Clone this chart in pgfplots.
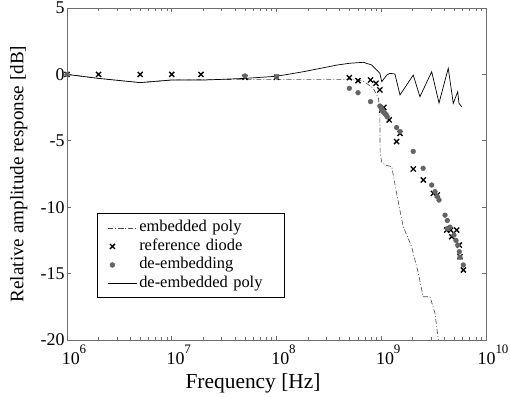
\documentclass[border=0pt]{standalone}
\usepackage{fontspec}
\setmainfont{Liberation Serif}
\usepackage{pgfplots}
\pgfplotsset{compat=1.18}
\definecolor{axgray}{RGB}{110,110,110}
\definecolor{dotgray}{RGB}{100,100,100}
\definecolor{dashgray}{RGB}{70,70,70}
\pgfplotsset{markleg/.style={legend image code/.code={\draw[##1] plot coordinates {(4bp,0bp)};}}}

\begin{document}
\begin{tikzpicture}
\begin{axis}[
  name=ax,
  scale only axis, width=419bp, height=332bp,
  xmode=log, xmin=1e6, xmax=1e10, ymin=-20, ymax=5,
  ytick={-20,-15,...,5},
  xtick={1e6,1e7,1e8,1e9,1e10},
  axis line style={axgray, line width=0.8bp},
  every tick/.style={axgray, line width=0.6bp},
  major tick length=4bp, minor tick length=3bp,
  /pgf/number format/assume math mode=true,
  tick label style={font=\fontsize{18}{18}\selectfont, text=black},
  yticklabel style={xshift=1bp},
  xticklabel={\pgfmathtruncatemacro\myexp{\tick/ln(10)+0.5}10\raisebox{11.5bp}{\fontsize{13}{13}\selectfont\myexp}},
  xticklabel style={xshift=7bp, yshift=-1bp},
  xlabel={Frequency [Hz]},
  ylabel={Relative amplitude response [dB]},
  xlabel style={font=\fontsize{21.5}{22}\selectfont, at={(axis description cs:0.444,-0.13)}, anchor=center},
  ylabel style={font=\fontsize{19.2}{20}\selectfont, at={(axis description cs:-0.115,0.5)}, anchor=center, rotate=0},
  legend image code/.code={\draw[mark repeat=2,mark phase=2,#1] plot coordinates {(0bp,0bp) (14.5bp,0bp) (29bp,0bp)};},
  legend cell align=left,
  legend style={at={(axis description cs:0.071,0.1265)}, anchor=south west,
    draw=black, line width=0.6bp, fill=white,
    font=\fontsize{16.5}{17}\selectfont,
    inner xsep=11bp, inner ysep=5bp, row sep=0pt,
    nodes={inner sep=1.5bp, text depth=4bp, text height=11.5bp, text width=133bp, anchor=west},
    /tikz/every even column/.append style={column sep=2.5bp}},
]
% embedded poly
\addplot[dashgray, line width=0.6bp, dash pattern=on 5bp off 2bp on 1bp off 2bp] coordinates {
(1e6,0) (2e6,-0.3) (5e6,-0.62) (1e7,-0.42) (2e7,-0.4) (5e7,-0.37) (1e8,-0.37) (5e8,-0.37)
(6.75e8,-0.5) (8.4e8,-1.05) (9.4e8,-1.8) (9.7e8,-2.8) (9.75e8,-5.9) (1.01e9,-6.6)
(1.09e9,-6.82) (1.26e9,-6.95) (1.4e9,-8.95) (1.62e9,-11.47) (1.95e9,-12.97)
(2.26e9,-14.98) (2.51e9,-16.74) (2.92e9,-16.74) (3.26e9,-17.99) (3.51e9,-20)
};
\addlegendentry{embedded poly}
% reference diode
\addplot[only marks, mark=x, mark size=3.6bp, black, line width=1.3bp, markleg] coordinates {
(1e6,0) (2e6,0) (5e6,0) (1e7,0) (1.9e7,0) (5e7,-0.22) (1e8,-0.22)
(4.96e8,-0.25) (6.0e8,-0.47) (7.9e8,-0.42) (8.9e8,-0.67) (9.7e8,-1.17)
(1.01e9,-2.68) (1.06e9,-2.48) (1.19e9,-3.43) (1.40e9,-5.06) (1.51e9,-4.44)
(2.02e9,-7.12) (2.52e9,-7.95) (3.14e9,-8.96) (3.43e9,-9.08)
(4.21e9,-11.72) (4.6e9,-11.72) (4.7e9,-12.22) (5.25e9,-11.72) (5.56e9,-12.85)
(5.64e9,-13.73) (6.08e9,-14.73)
};
\addlegendentry{reference diode}
% de-embedding
\addplot[only marks, mark=*, mark size=2.4bp, dotgray, mark options={draw=dotgray, fill=dotgray}, markleg] coordinates {
(1e6,0) (5e7,-0.12) (1e8,-0.17) (4.96e8,-1.05) (6e8,-1.38) (7.9e8,-2.05)
(9.7e8,-2.38) (9.9e8,-2.45) (1.01e9,-2.56) (1.02e9,-2.7) (1.04e9,-2.8) (1.06e9,-2.85)
(1.08e9,-2.93) (1.1e9,-3.0) (1.12e9,-3.06) (1.14e9,-3.2)
(1.4e9,-4.0) (1.51e9,-4.3) (2.02e9,-5.8) (2.51e9,-7.07) (3.03e9,-8.33)
(3.26e9,-8.83) (3.43e9,-9.2) (3.56e9,-9.46) (4.06e9,-10.6) (4.27e9,-11.0)
(4.27e9,-11.6) (4.53e9,-11.5) (4.94e9,-12.1) (5.17e9,-12.5) (5.37e9,-12.85)
(5.56e9,-13.35) (5.64e9,-13.77) (6.07e9,-14.35)
};
\addlegendentry{de-embedding}
% de-embedded poly
\addplot[black, line width=0.7bp] coordinates {
(1e6,0) (2e6,-0.3) (5e6,-0.62) (1e7,-0.42) (2.1e7,-0.42) (5e7,-0.3) (1e8,-0.14)
(1.8e8,0.2) (3.76e8,0.7) (5e8,0.84) (6.75e8,0.91) (8.1e8,0.71) (9.05e8,0.33)
(9.7e8,0.08) (1.01e9,-0.55) (1.13e9,-0.05) (1.21e9,0.08) (1.35e9,0.03)
(1.51e9,-1.55) (2.02e9,-0.05) (2.34e9,-1.68) (3.03e9,0.2) (3.56e9,-2.15)
(4.36e9,0.46) (4.87e9,-2.18) (5.37e9,-1.3) (5.52e9,-2.18) (5.86e9,-2.43)
};
\addlegendentry{de-embedded poly}
\end{axis}
\pgfresetboundingbox
\path ([xshift=-67bp,yshift=-57bp]ax.south west) rectangle ([xshift=24bp,yshift=8bp]ax.north east);
\end{tikzpicture}
\end{document}
